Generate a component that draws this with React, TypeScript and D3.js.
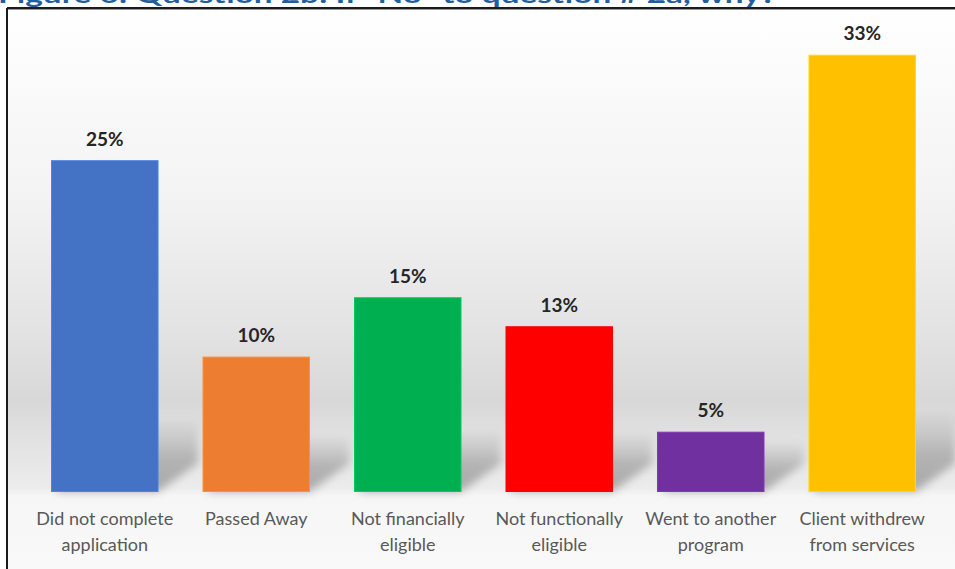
import React from "react";
import * as d3 from "d3";

const categories: string[][] = [
  ["Did not complete", "application"],
  ["Passed Away"],
  ["Not financially", "eligible"],
  ["Not functionally", "eligible"],
  ["Went to another", "program"],
  ["Client withdrew", "from services"],
];
const values: number[] = [25.1, 10.2, 14.7, 12.5, 4.5, 33.1];
const colors: string[] = ["#4472C4", "#ED7D31", "#00B050", "#FF0000", "#7030A0", "#FFC000"];
const title = 'Figure 6: Question 2b: If "No" to question # 2a, why?';

const W = 955;
const H = 569;

export default function App() {
  const keys = categories.map((c) => c.join(" "));
  const x = d3.scaleBand<string>().domain(keys).range([28.8, 938.2]).paddingInner(0.297).paddingOuter(0.15);
  const y = d3.scaleLinear().domain([0, 35]).range([491.5, 30.2]);
  const base = y(0);
  const bw = x.bandwidth();

  return (
    <svg width={W} height={H} style={{ position: "absolute", left: 0, top: 0 }} xmlns="http://www.w3.org/2000/svg">
      <defs>
        <linearGradient id="bg" x1="0" y1="9" x2="0" y2={H} gradientUnits="userSpaceOnUse">
          <stop offset={0} stopColor="#ffffff" />
          <stop offset={(200 - 9) / (H - 9)} stopColor="#f3f3f3" />
          <stop offset={(330 - 9) / (H - 9)} stopColor="#e3e3e3" />
          <stop offset={(400 - 9) / (H - 9)} stopColor="#d8d8d8" />
          <stop offset={(445 - 9) / (H - 9)} stopColor="#e3e3e3" />
          <stop offset={(488 - 9) / (H - 9)} stopColor="#ececec" />
          <stop offset={(496 - 9) / (H - 9)} stopColor="#f6f6f6" />
          <stop offset={1} stopColor="#f9f9f9" />
        </linearGradient>
        <filter id="blur" x="-50%" y="-50%" width="200%" height="200%">
          <feGaussianBlur stdDeviation="4" />
        </filter>
        <linearGradient id="shad" x1="0" y1="0" x2="0" y2="1">
          <stop offset={0} stopColor="#b8b8b8" stopOpacity={0.2} />
          <stop offset={0.5} stopColor="#a8a8a8" stopOpacity={0.8} />
          <stop offset={1} stopColor="#a0a0a0" stopOpacity={0.9} />
        </linearGradient>
      </defs>

      <text x={-2} y={3} fontFamily="Lato, 'Open Sans', sans-serif" fontWeight="bold" fontSize={23} fill="#1F5FA0" textLength={778} lengthAdjust="spacingAndGlyphs">
        {title}
      </text>

      <rect x={8} y={9} width={W - 8} height={H - 9} fill="url(#bg)" />

      {keys.map((k, i) => {
        const x0 = x(k)!;
        const x1 = x0 + bw;
        const h = base - y(values[i]);
        const sh = 15 + 0.08 * h;
        const dx = 40;
        const dy = 28;
        const pts = [
          [x0 + 4, base],
          [x1, base],
          [x1 + dx, base - dy],
          [x1 + dx, base - dy - sh],
          [x0 + dx, base - dy - sh],
        ];
        return (
          <polygon key={"s" + i} points={pts.map((p) => p.join(",")).join(" ")} fill="url(#shad)" filter="url(#blur)" />
        );
      })}

      {keys.map((k, i) => (
        <rect
          key={"b" + i}
          x={x(k)}
          y={y(values[i])}
          width={bw}
          height={base - y(values[i])}
          fill={colors[i]}
          stroke={d3.color(colors[i])!.brighter(0.4).formatHex()}
          strokeWidth={1}
        />
      ))}

      {keys.map((k, i) => (
        <text
          key={"v" + i}
          x={x(k)! + bw / 2}
          y={y(values[i]) - 15}
          textAnchor="middle"
          fontFamily="Lato, 'Open Sans', sans-serif"
          fontWeight="bold"
          fontSize={19}
          fill="#262626"
        >
          {Math.round(values[i]) + "%"}
        </text>
      ))}

      {categories.map((lines, i) => (
        <text
          key={"c" + i}
          x={x(keys[i])! + bw / 2}
          y={base + 33.5}
          textAnchor="middle"
          fontFamily="Lato, 'Open Sans', sans-serif"
          fontSize={18}
          fill="#595959"
        >
          {lines.map((l, j) => (
            <tspan key={j} x={x(keys[i])! + bw / 2} dy={j === 0 ? 0 : 26}>
              {l}
            </tspan>
          ))}
        </text>
      ))}

      <line x1={7} y1={8} x2={W} y2={8} stroke="#1a1a1a" strokeWidth={2} />
      <line x1={7} y1={8} x2={7} y2={H} stroke="#1a1a1a" strokeWidth={2} />
      <line x1={8} y1={9.5} x2={W} y2={9.5} stroke="#9a9a9a" strokeWidth={1} />
    </svg>
  );
}
